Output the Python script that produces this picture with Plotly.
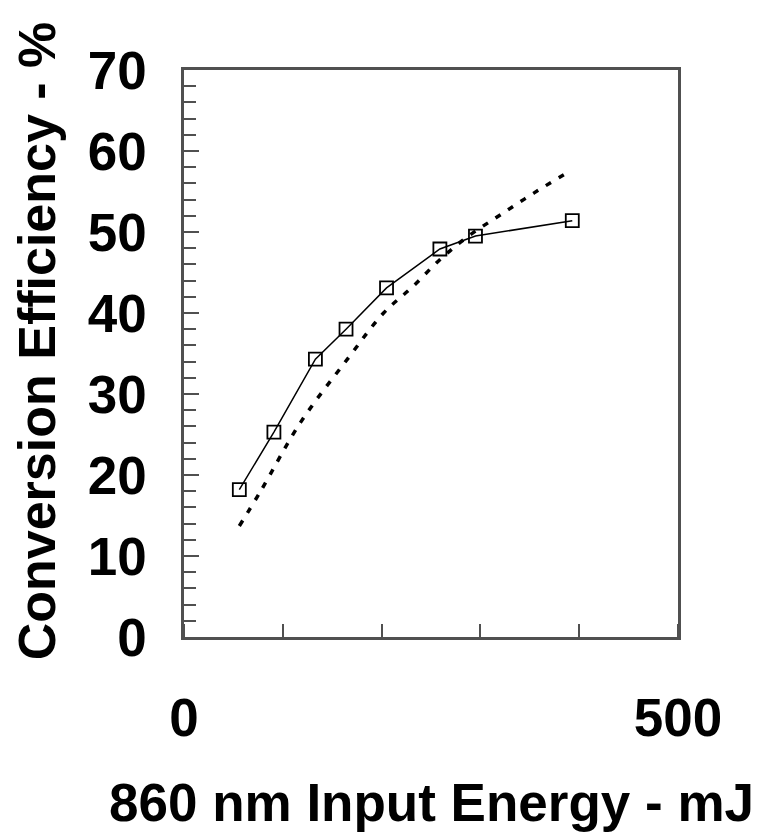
import plotly.graph_objects as go

# Measured data (solid line with open squares)
meas_x = [56, 91, 133, 164, 205, 259, 295, 393]
meas_y = [18.2, 25.3, 34.3, 38.0, 43.1, 47.9, 49.5, 51.4]

# Model curve (dotted)
model_x = [56, 78, 118, 166, 202, 231, 260, 288, 320, 354, 389]
model_y = [13.7, 18.1, 26.5, 34.4, 40.0, 43.2, 46.7, 49.5, 52.1, 54.8, 57.4]

y_ticks = [0, 10, 20, 30, 40, 50, 60, 70]
x_ticks = [0, 500]

FONT = "Liberation Sans, Arial, sans-serif"
AX = "#505050"

fig = go.Figure()
fig.add_trace(go.Scatter(
    x=model_x, y=model_y, mode="lines",
    line=dict(color="black", width=3.5, dash="6px,9px", shape="spline"),
    showlegend=False, hoverinfo="skip"))
fig.add_trace(go.Scatter(
    x=meas_x, y=meas_y, mode="lines+markers",
    line=dict(color="black", width=1.5),
    marker=dict(symbol="square-open", size=13, color="black",
                line=dict(color="black", width=1.8)),
    showlegend=False))

fig.update_layout(
    width=754, height=827,
    margin=dict(l=176, r=84, t=62, b=198),
    paper_bgcolor="white", plot_bgcolor="white",
    font=dict(family=FONT, size=53, color="black", weight="bold"),
)

fig.update_xaxes(
    range=[0, 500], showgrid=False, zeroline=False,
    showline=True, mirror=True, linecolor=AX, linewidth=2.5,
    tickmode="array", tickvals=x_ticks, ticktext=[str(v) for v in x_ticks],
    ticks="", ticklabelstandoff=33,
    tickfont=dict(family=FONT, size=53, color="black", weight="bold"),
    minor=dict(tickmode="linear", tick0=0, dtick=100, ticks="inside",
               ticklen=13, tickwidth=2, tickcolor=AX),
)
fig.update_yaxes(
    range=[0, 70], showgrid=False, zeroline=False,
    showline=True, mirror=True, linecolor=AX, linewidth=2.5,
    tickmode="array", tickvals=y_ticks, ticktext=[str(v) for v in y_ticks],
    ticks="inside", ticklen=15, tickwidth=2, tickcolor=AX,
    ticklabelstandoff=24,
    tickfont=dict(family=FONT, size=53, color="black", weight="bold"),
    minor=dict(tickmode="linear", tick0=0, dtick=2, ticks="inside",
               ticklen=12, tickwidth=2, tickcolor=AX),
)

fig.add_annotation(
    text="Conversion Efficiency - %", textangle=-90,
    xref="paper", yref="paper", x=(36 - 183) / 495, y=(637 - 341) / 567,
    xanchor="center", yanchor="middle", showarrow=False,
    font=dict(family=FONT, size=52, color="black", weight="bold"))
fig.add_annotation(
    text="860 nm Input Energy - mJ",
    xref="paper", yref="paper", x=0.5, y=(637 - 802) / 567,
    xanchor="center", yanchor="middle", showarrow=False,
    font=dict(family=FONT, size=53, color="black", weight="bold"))

fig.write_html("out.html")
